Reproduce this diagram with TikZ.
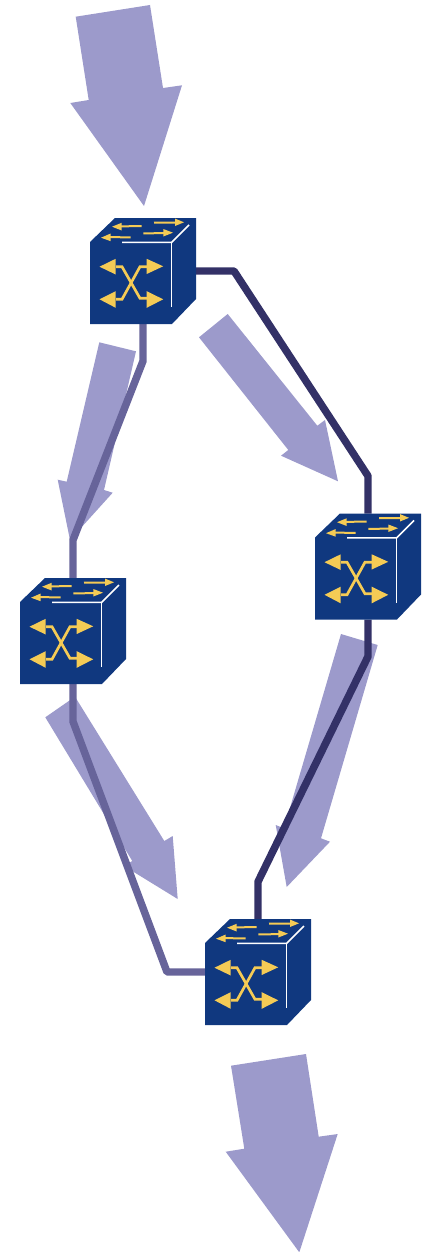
\documentclass[tikz,border=0pt]{standalone}
\definecolor{flow}{HTML}{9C9ACB}
\definecolor{lineLight}{HTML}{67649A}
\definecolor{lineDark}{HTML}{333167}
\definecolor{cubeBlue}{HTML}{10387F}
\definecolor{signal}{HTML}{F5CB55}
\tikzset{
  flowarrow/.style={fill=flow,draw=none},
  ringlight/.style={draw=lineLight,line width=5.6pt,line join=bevel},
  ringdark/.style={draw=lineDark,line width=5.6pt,line join=bevel},
  cubeslot/.style={draw=none,inner sep=0pt,outer sep=0pt,minimum width=79.5pt,minimum height=79.5pt,anchor=north west},
  pics/switchcube/.style={code={
    \fill[cubeBlue] (0,24) -- (25,0) -- (106,0) -- (106,81) -- (82,106) -- (0,106) -- cycle;
    \draw[white,line width=1.1pt] (32,24.3) -- (81.7,24.3) -- (99,7);
    \draw[white,line width=1.1pt] (81.7,24.3) -- (81.7,89.3);
    \draw[signal,line width=2pt] (26,48.7) -- (32,48.7) -- (50,80.3) -- (58,80.3);
    \draw[signal,line width=2pt] (26,81.3) -- (32,81.3) -- (50,48.7) -- (58,48.7);
    \fill[signal] (9.5,48.7) -- (25.7,40.8) -- (25.7,56.5) -- cycle;
    \fill[signal] (9.5,81.3) -- (25.7,73.2) -- (25.7,89.8) -- cycle;
    \fill[signal] (73.2,48.3) -- (56.7,40.8) -- (56.7,56) -- cycle;
    \fill[signal] (73.2,81.3) -- (56.7,73.2) -- (56.7,89.8) -- cycle;
    \draw[signal,line width=1.5pt] (31,8.4) -- (51.7,8);
    \fill[signal] (22,8.7) -- (31.7,4.8) -- (31.7,12.5) -- cycle;
    \draw[signal,line width=1.5pt] (20,19.2) -- (40.7,19.3);
    \fill[signal] (11,19.7) -- (20.7,15.5) -- (20.7,23.2) -- cycle;
    \draw[signal,line width=1.5pt] (64,4.7) -- (85,4.6);
    \fill[signal] (94,4.3) -- (85,0.6) -- (85,8) -- cycle;
    \draw[signal,line width=1.5pt] (53.3,15.3) -- (74,15.2);
    \fill[signal] (83,14.7) -- (73.3,11) -- (73.3,18.5) -- cycle;
  }}
}
\begin{document}
\begin{tikzpicture}[x=0.75pt,y=-0.75pt]
\path[use as bounding box] (0,0) rectangle (425,1252);
% big flow arrows
\fill[flowarrow] (75.7,16.7) -- (150,5) -- (163,88) -- (182,85.3) -- (144,206) -- (70.3,103) -- (88.7,100) -- cycle;
\fill[flowarrow] (231,1065.7) -- (306,1054) -- (318.7,1136.7) -- (337.7,1134) -- (299.3,1252.3) -- (225.7,1151.7) -- (244.3,1148.7) -- cycle;
\fill[flowarrow] (99.3,342.3) -- (136,351.3) -- (104,490) -- (112.7,492.7) -- (70,540) -- (57.7,479.7) -- (66.7,481.7) -- cycle;
\fill[flowarrow] (45.3,717.3) -- (75,696.7) -- (164.3,841) -- (172.7,836) -- (177.7,899) -- (124,866) -- (132.3,861) -- cycle;
\fill[flowarrow] (199,337.3) -- (227.7,314) -- (317.3,425.7) -- (325,420) -- (338,481.3) -- (281,455.7) -- (288.3,450) -- cycle;
\fill[flowarrow] (341,634) -- (377.7,645) -- (321,838.3) -- (330,841.7) -- (286.7,887) -- (275.7,825) -- (284,828.3) -- cycle;
% switch slots
\node[cubeslot] (s1) at (90,218) {};
\node[cubeslot] (s2) at (20,578) {};
\node[cubeslot] (s3) at (315,513.5) {};
\node[cubeslot] (s4) at (205,919) {};
% bends
\coordinate (a1) at (143,361);
\coordinate (a2) at (73,540);
\coordinate (b1) at (73,721.5);
\coordinate (b2) at (167,972);
\coordinate (c1) at (234,271);
\coordinate (c2) at (368,476);
\coordinate (d1) at (368,656.5);
\coordinate (d2) at (258,881.7);
% connectors
\draw[ringlight] (s1.south) -- (a1) -- (a2) -- (s2.north);
\draw[ringlight] (s2.south) -- (b1) -- (b2) -- (s4.west);
\draw[ringdark] (s1.east) -- (c1) -- (c2) -- (s3.north);
\draw[ringdark] (s3.south) -- (d1) -- (d2) -- (s4.north);
% switches
\pic at (s1.north west) {switchcube};
\pic at (s2.north west) {switchcube};
\pic at (s3.north west) {switchcube};
\pic at (s4.north west) {switchcube};
\end{tikzpicture}
\end{document}
